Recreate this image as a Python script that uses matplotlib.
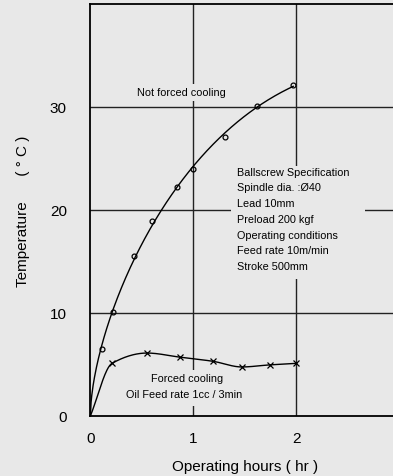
import numpy as np
import matplotlib
matplotlib.use("Agg")
import matplotlib.pyplot as plt
from matplotlib.patches import Rectangle

plt.rcParams['font.family'] = ['Liberation Sans', 'DejaVu Sans']

# not forced cooling (circles)
hours_nf = [0.11, 0.22, 0.42, 0.60, 0.84, 1.00, 1.31, 1.62, 1.97]
temp_nf = [6.5, 10.1, 15.5, 18.9, 22.2, 24.0, 27.1, 30.1, 32.1]

# forced cooling (crosses)
hours_fc = [0.21, 0.55, 0.87, 1.19, 1.47, 1.74, 2.00]
temp_fc = [5.1, 6.1, 5.7, 5.3, 4.75, 4.95, 5.1]

x_ticks = [0, 1, 2]
y_ticks = [0, 10, 20, 30]

spec_lines = ["Ballscrew Specification", "Spindle dia. :\u00d840", "Lead 10mm",
              "Preload 200 kgf", "Operating conditions", "Feed rate 10m/min",
              "Stroke 500mm"]

BG = '#e8e8e8'


def pchip(x, y, xs):
    # monotone cubic (Fritsch-Carlson) so the curve does not overshoot
    x = np.asarray(x, float)
    y = np.asarray(y, float)
    h = np.diff(x)
    d = np.diff(y) / h
    m = np.zeros(len(x))
    for i in range(1, len(x) - 1):
        if d[i - 1] * d[i] > 0:
            w1 = 2 * h[i] + h[i - 1]
            w2 = h[i] + 2 * h[i - 1]
            m[i] = (w1 + w2) / (w1 / d[i - 1] + w2 / d[i])
    m[0] = d[0]
    m[-1] = d[-1]
    idx = np.clip(np.searchsorted(x, xs) - 1, 0, len(x) - 2)
    t = (xs - x[idx]) / h[idx]
    h00 = 2 * t**3 - 3 * t**2 + 1
    h10 = t**3 - 2 * t**2 + t
    h01 = -2 * t**3 + 3 * t**2
    h11 = t**3 - t**2
    return (h00 * y[idx] + h10 * h[idx] * m[idx]
            + h01 * y[idx + 1] + h11 * h[idx] * m[idx + 1])


fig = plt.figure(figsize=(3.93, 4.77), dpi=100, facecolor=BG)
ax = fig.add_axes([0.230, 0.126, 0.786, 0.864])
ax.set_facecolor(BG)
ax.set_xlim(0, 3)
ax.set_ylim(0, 40)

for v in [1, 2]:
    ax.axvline(v, color='#222222', lw=1.0, zorder=1)
for v in [10, 20, 30]:
    ax.axhline(v, color='#222222', lw=1.0, zorder=1)

# smooth curves through the points, starting at origin
xs = np.linspace(0, hours_nf[-1], 300)
s_nf = np.sqrt([0] + hours_nf)
coef = np.polyfit(s_nf, [0] + temp_nf, 3)
ax.plot(xs, np.polyval(coef, np.sqrt(xs)), color='black', lw=1.0, zorder=3)
ax.plot(hours_nf, temp_nf, 'o', ms=3.5, mfc='none', mec='black', mew=0.9, zorder=4)

xs2 = np.linspace(0, hours_fc[-1], 300)
ax.plot(xs2, pchip([0] + hours_fc, [0] + temp_fc, xs2), color='black', lw=1.0, zorder=3)
ax.plot(hours_fc, temp_fc, 'x', ms=4, mec='black', mew=0.9, zorder=4)

# boxes hiding grid behind texts
ax.add_patch(Rectangle((1.37, 13.3), 1.3, 11.0, facecolor=BG, edgecolor='none', zorder=2))
ax.add_patch(Rectangle((0.45, 30.6), 0.9, 1.6, facecolor=BG, edgecolor='none', zorder=2))
ax.add_patch(Rectangle((0.3, 1.0), 1.4, 3.5, facecolor=BG, edgecolor='none', zorder=2))

fs = 7.8
ax.text(0.88, 31.4, "Not forced cooling", fontsize=fs, ha='center', va='center', zorder=5)
ax.text(1.42, 24.2, "\n".join(spec_lines), fontsize=fs, ha='left', va='top',
        linespacing=1.72, zorder=5)
ax.text(0.94, 3.7, "Forced cooling", fontsize=fs, ha='center', va='center', zorder=5)
ax.text(0.91, 2.1, "Oil Feed rate 1cc / 3min", fontsize=fs, ha='center', va='center', zorder=5)

ax.set_xticks(x_ticks)
ax.set_yticks(y_ticks)
ax.tick_params(length=0, labelsize=11, pad=11)
ax.tick_params(axis='y', pad=17)
for s in ['left', 'top', 'bottom']:
    ax.spines[s].set_linewidth(1.3)
ax.spines['right'].set_visible(False)

ax.set_xlabel("Operating hours ( hr )", fontsize=11, labelpad=10)
ax.set_ylabel("Temperature      ( \u00b0 C )", fontsize=11, labelpad=14)

fig.savefig("out.png", dpi=100, facecolor=BG)
